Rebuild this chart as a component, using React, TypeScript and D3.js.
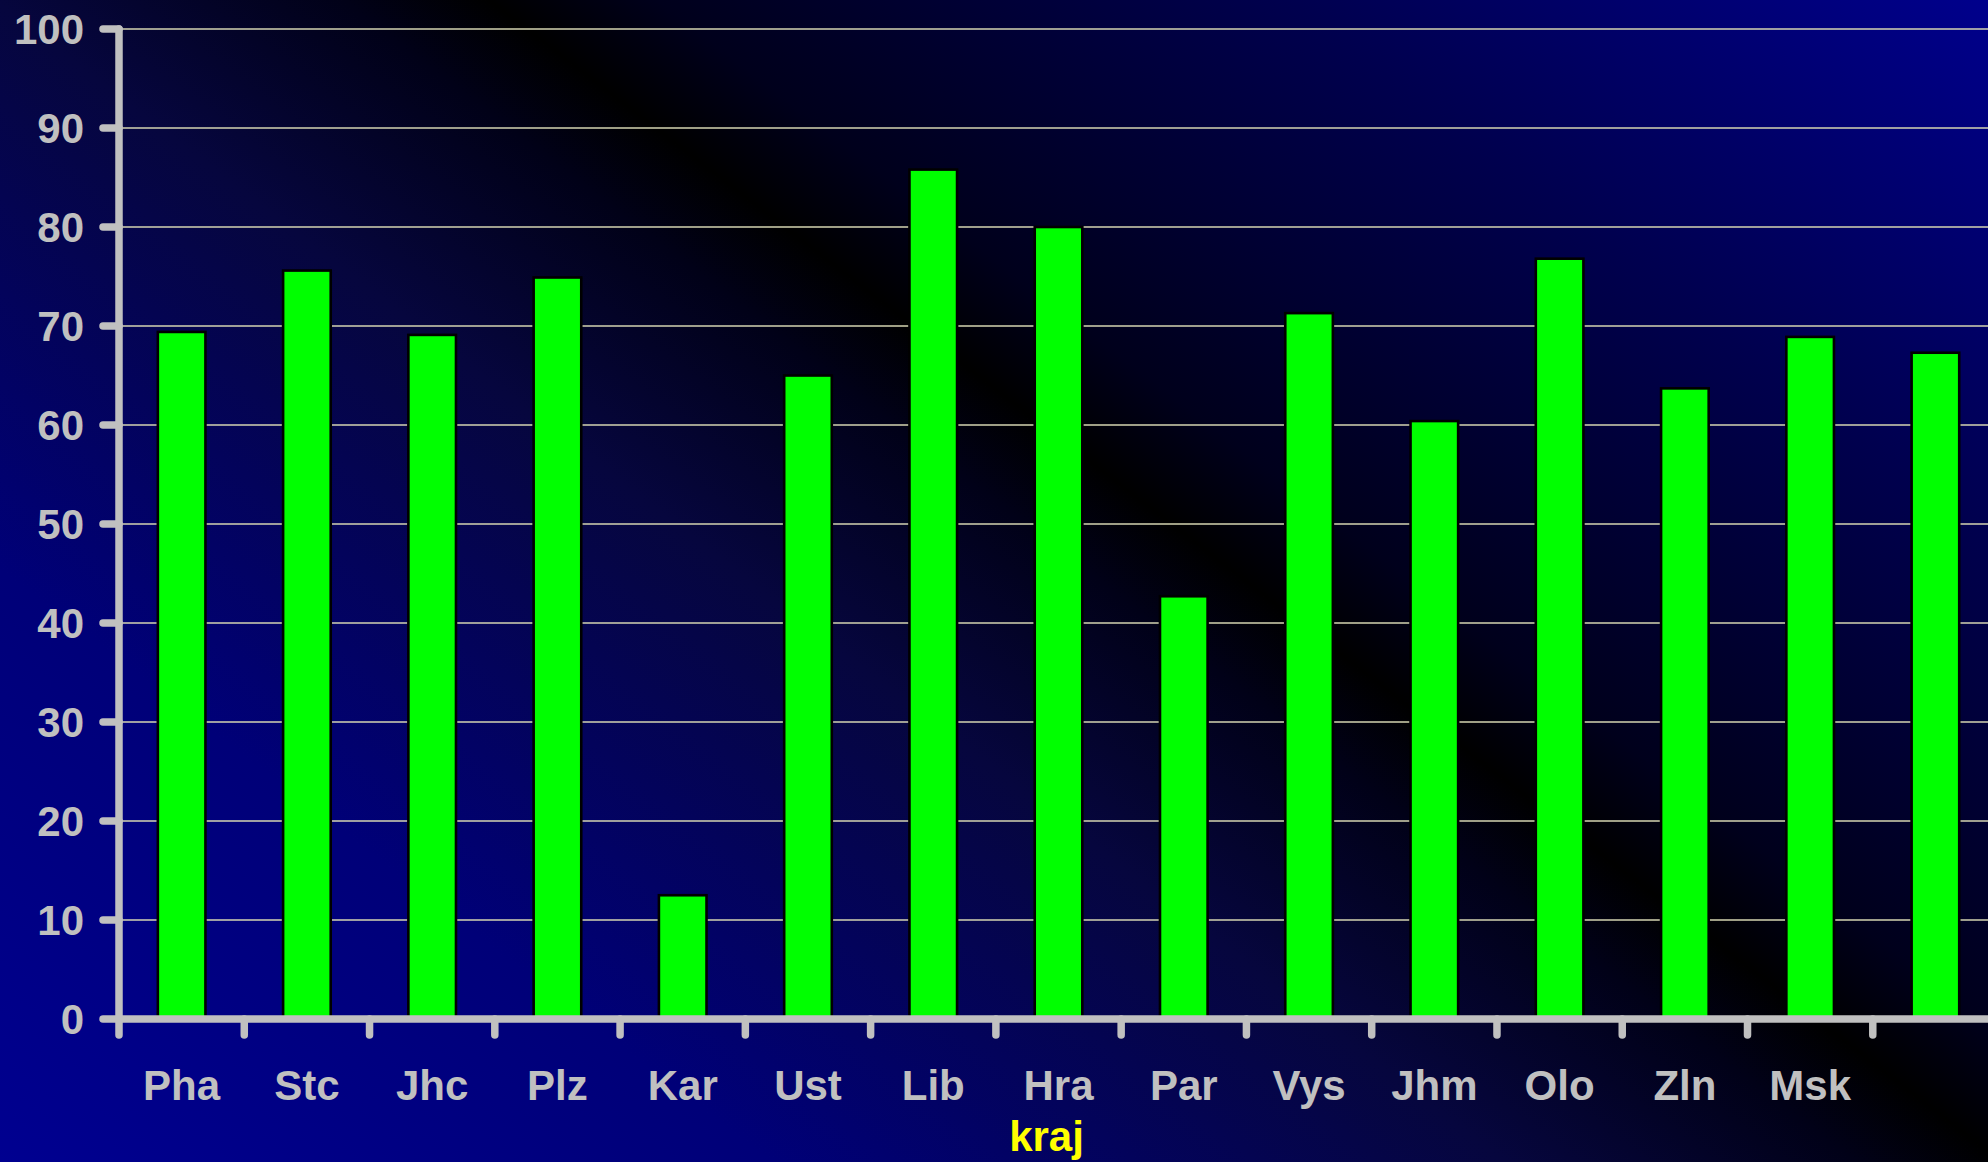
import React, { useEffect, useRef } from "react";
import * as d3 from "d3";

const categories = ["Pha", "Stc", "Jhc", "Plz", "Kar", "Ust", "Lib", "Hra", "Par", "Vys", "Jhm", "Olo", "Zln", "Msk", "ČR"];
const categoryLabels = ["Pha", "Stc", "Jhc", "Plz", "Kar", "Ust", "Lib", "Hra", "Par", "Vys", "Jhm", "Olo", "Zln", "Msk", ""];
const values = [69.4, 75.6, 69.1, 74.9, 12.5, 65.0, 85.8, 80.0, 42.7, 71.3, 60.4, 76.8, 63.7, 68.9, 67.3];
const yTicks = [0, 10, 20, 30, 40, 50, 60, 70, 80, 90, 100];
const xTitle = "kraj";

const W = 1988;
const H = 1162;

export default function App() {
  const ref = useRef<SVGSVGElement | null>(null);

  useEffect(() => {
    document.body.style.margin = "0";
    document.body.style.overflow = "hidden";
    const svg = d3.select(ref.current);
    svg.selectAll("*").remove();

    const left = 119;
    const step = 125.27;
    const x = d3
      .scaleBand<string>()
      .domain(categories)
      .range([left, left + step * categories.length])
      .paddingInner(0.62)
      .paddingOuter(0.31);
    const y = d3.scaleLinear().domain([0, 100]).range([1019, 29]);

    // background gradient
    const defs = svg.append("defs");
    const grad = defs
      .append("linearGradient")
      .attr("id", "bg")
      .attr("gradientUnits", "userSpaceOnUse")
      .attr("x1", -253)
      .attr("y1", 967)
      .attr("x2", 1045)
      .attr("y2", -723);
    grad.append("stop").attr("offset", 0).attr("stop-color", "#000090");
    grad.append("stop").attr("offset", 0.22).attr("stop-color", "#000078");
    grad.append("stop").attr("offset", 0.43).attr("stop-color", "#06063e");
    grad.append("stop").attr("offset", 0.53).attr("stop-color", "#010118");
    grad.append("stop").attr("offset", 0.572).attr("stop-color", "#000000");
    grad.append("stop").attr("offset", 0.62).attr("stop-color", "#00001c");
    grad.append("stop").attr("offset", 0.8).attr("stop-color", "#00004e");
    grad.append("stop").attr("offset", 1).attr("stop-color", "#00008c");
    svg.append("rect").attr("width", W).attr("height", H).attr("fill", "url(#bg)");

    // gridlines
    svg
      .append("g")
      .selectAll("line")
      .data(yTicks.filter((t) => t > 0))
      .join("line")
      .attr("x1", left)
      .attr("x2", W)
      .attr("y1", (d) => y(d))
      .attr("y2", (d) => y(d))
      .attr("stroke", "#d4d4b2")
      .attr("stroke-width", 1.4);

    // bars
    svg
      .append("g")
      .selectAll("rect")
      .data(values)
      .join("rect")
      .attr("x", (_, i) => x(categories[i])!)
      .attr("width", x.bandwidth())
      .attr("y", (d) => y(d))
      .attr("height", (d) => y(0) - y(d))
      .attr("fill", "#00ff00")
      .attr("stroke", "#000000")
      .attr("stroke-width", 2.6);

    const axisColor = "#c0c0c0";
    const ax = svg.append("g").attr("stroke", axisColor).attr("stroke-width", 7.5).attr("stroke-linecap", "round");
    // y axis line
    ax.append("line").attr("x1", left).attr("x2", left).attr("y1", y(100)).attr("y2", y(0) + 16);
    // y ticks
    ax.selectAll("line.yt")
      .data(yTicks)
      .join("line")
      .attr("class", "yt")
      .attr("x1", left - 16)
      .attr("x2", left)
      .attr("y1", (d) => y(d))
      .attr("y2", (d) => y(d));
    // x axis line
    ax.append("line").attr("x1", left).attr("x2", W + 20).attr("y1", y(0)).attr("y2", y(0));
    // x ticks at category boundaries
    const bounds = d3.range(1, categories.length + 1).map((i) => left + i * x.step());
    ax.selectAll("line.xt")
      .data(bounds)
      .join("line")
      .attr("class", "xt")
      .attr("x1", (d) => d)
      .attr("x2", (d) => d)
      .attr("y1", y(0))
      .attr("y2", y(0) + 16);

    const font = "'Liberation Sans', Arial, sans-serif";
    // y tick labels
    svg
      .append("g")
      .selectAll("text")
      .data(yTicks)
      .join("text")
      .attr("x", 84)
      .attr("y", (d) => y(d))
      .attr("dy", "0.36em")
      .attr("text-anchor", "end")
      .attr("font-family", font)
      .attr("font-weight", "bold")
      .attr("font-size", 42)
      .attr("fill", axisColor)
      .text((d) => d);

    // category labels
    svg
      .append("g")
      .selectAll("text")
      .data(categories)
      .join("text")
      .attr("x", (d) => x(d)! + x.bandwidth() / 2)
      .attr("y", 1100)
      .attr("text-anchor", "middle")
      .attr("font-family", font)
      .attr("font-weight", "bold")
      .attr("font-size", 42)
      .attr("fill", axisColor)
      .text((_, i) => categoryLabels[i]);

    // axis title
    svg
      .append("text")
      .attr("x", 1046.5)
      .attr("y", 1151)
      .attr("text-anchor", "middle")
      .attr("font-family", font)
      .attr("font-weight", "bold")
      .attr("font-size", 42)
      .attr("fill", "#ffff00")
      .text(xTitle);
  }, []);

  return (
    <svg
      ref={ref}
      width={W}
      height={H}
      style={{ position: "absolute", left: 0, top: 0, display: "block" }}
    />
  );
}
